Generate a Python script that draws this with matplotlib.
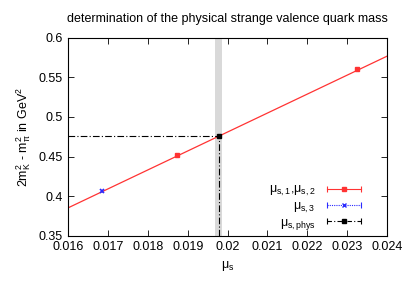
"""Physical strange valence quark mass determination."""

import matplotlib

matplotlib.use("Agg")
import matplotlib.pyplot as plt
from matplotlib.legend_handler import HandlerLine2D, HandlerTuple
from matplotlib.lines import Line2D
from matplotlib.ticker import FuncFormatter, MultipleLocator

plt.rcParams["font.family"] = ["Liberation Sans", "DejaVu Sans"]
plt.rcParams["mathtext.default"] = "regular"
plt.rcParams["font.size"] = 9

# data
mu_fit = [0.01873, 0.02324]
m2_fit = [0.4515, 0.5605]
mu_3 = [0.01684]
m2_3 = [0.4065]
mu_phys = 0.019775
m2_phys = 0.4765
mu_band = (0.01969, 0.01986)
line_mu = [0.016, 0.024]
line_m2 = [0.3855, 0.5765]

RED = "#ff3333"
BLUE = "#2a2aff"

fig = plt.figure(figsize=(4.09, 2.87), dpi=100)
ax = fig.add_axes([0.167, 0.178, 0.779, 0.691])

ax.axvspan(*mu_band, color="#d9d9d9", lw=0, zorder=0)
ax.plot(line_mu, line_m2, color=RED, lw=0.9, zorder=2)
ax.plot([0.016, mu_phys], [m2_phys, m2_phys], color="black", lw=0.8, ls=(0, (6, 2, 1, 2)), zorder=3)
ax.plot([mu_phys, mu_phys], [0.35, m2_phys], color="black", lw=0.8, ls=(0, (6, 2, 1, 2)), zorder=3)
ax.errorbar(mu_fit, m2_fit, yerr=0.001, fmt="s", ms=3, color=RED, elinewidth=0.8, capsize=0, zorder=4)
ax.errorbar(mu_3, m2_3, yerr=0.001, fmt="x", ms=3.5, mew=1.2, color=BLUE, elinewidth=0.8, capsize=0, zorder=4)
ax.errorbar([mu_phys], [m2_phys], yerr=0.001, fmt="s", ms=3.5, color="black", capsize=0, zorder=5)

ax.set_xlim(0.016, 0.024)
ax.set_ylim(0.35, 0.6)
ax.xaxis.set_major_locator(MultipleLocator(0.001))
ax.yaxis.set_major_locator(MultipleLocator(0.05))
fmt = FuncFormatter(lambda v, _: "%g" % round(v, 6))
ax.xaxis.set_major_formatter(fmt)
ax.yaxis.set_major_formatter(fmt)
ax.tick_params(direction="in", top=True, right=True, length=4, width=0.6, labelsize=9, pad=4)
for s in ax.spines.values():
    s.set_linewidth(0.8)

ax.set_title("determination of the physical strange valence quark mass", fontsize=9, pad=11)
ax.set_xlabel("μ$_s$", fontsize=9)
ax.set_ylabel("2m$_K^2$ - m$_\\pi^2$ in GeV$^2$", fontsize=9)


def legend_entry(color, ls, marker, ms):
    caps = Line2D([], [], color=color, ls=ls, lw=0.8, marker="|", ms=5, mew=0.8)
    dot = Line2D([], [], color=color, ls="none", marker=marker, ms=ms)
    return caps, dot


red_caps, red_dot = legend_entry(RED, "-", "s", 2.5)
blue_caps, blue_dot = legend_entry(BLUE, (0, (1, 1)), "x", 3.5)
blk_caps, blk_dot = legend_entry("black", (0, (4, 2, 1, 2)), "s", 3)
hmap = {h: HandlerLine2D(numpoints=2) for h in (red_caps, blue_caps, blk_caps)}
hmap[tuple] = HandlerTuple(ndivide=1)
ax.legend(
    [(red_caps, red_dot), (blue_caps, blue_dot), (blk_caps, blk_dot)],
    ["μ$_{s,1}$,μ$_{s,2}$", "μ$_{s,3}$", "μ$_{s,phys}$"],
    handler_map=hmap,
    loc="lower right",
    bbox_to_anchor=(0.965, -0.035),
    frameon=False,
    markerfirst=False,
    fontsize=9,
    handlelength=3.3,
    handletextpad=0.6,
    labelspacing=0.15,
)

fig.savefig("out.png", dpi=100)
